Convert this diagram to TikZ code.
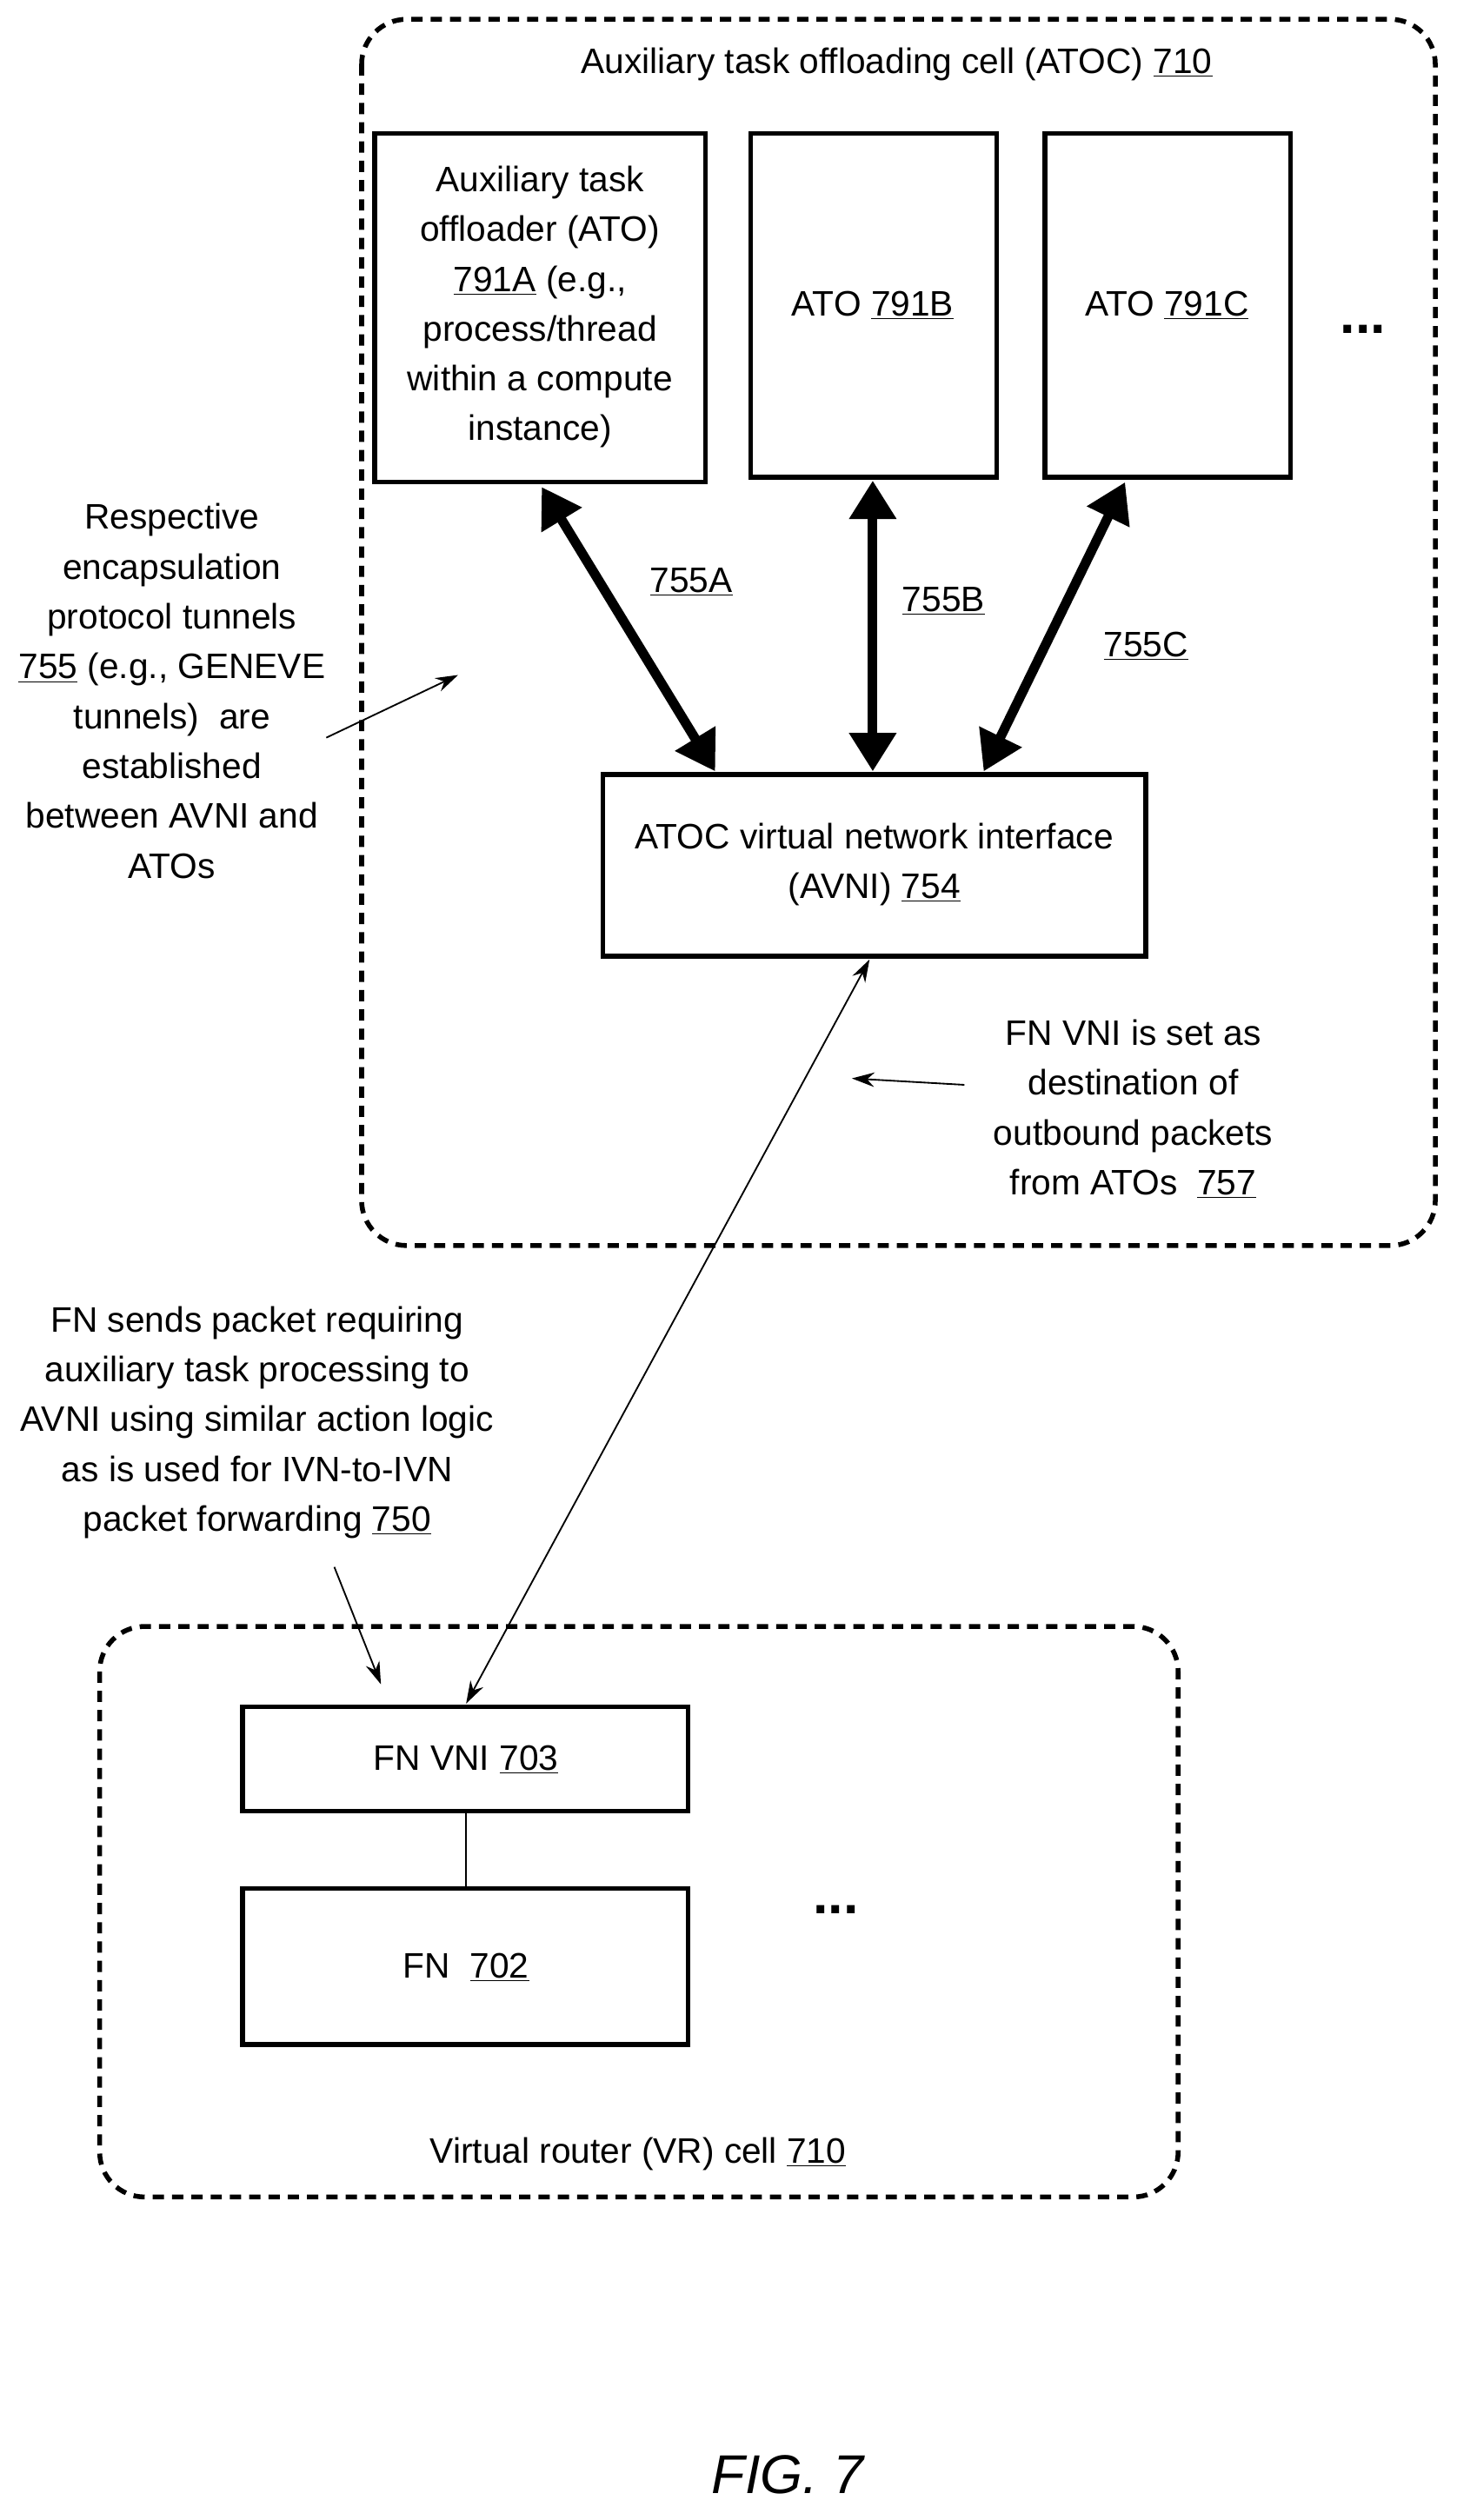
\documentclass[tikz,border=0pt]{standalone}
\usepackage{fontspec}
\setmainfont{Liberation Sans}
\usetikzlibrary{arrows.meta}
\begin{document}
\begin{tikzpicture}[x=1pt,y=-1pt,
  every node/.style={font=\fontsize{22}{31}\selectfont,align=center},
  cell/.style={draw,line width=3pt,dash pattern=on 7pt off 5pt,rounded corners=28pt},
  box/.style={draw,line width=3pt},
  fat/.style={line width=6pt,{Triangle[length=24pt,width=28pt]}-{Triangle[length=24pt,width=28pt]}},
  thin/.style={line width=1pt,{Stealth[length=14pt,width=9pt]}-{Stealth[length=14pt,width=9pt]}},
  pt/.style={line width=1pt,-{Stealth[length=14pt,width=9pt]}}]
\useasboundingbox (0,0) rectangle (906,1568);
\draw[cell] (225,12) rectangle (893,775);
\node (t1) at (558,40) {Auxiliary task offloading cell (ATOC) \underline{710}};
\draw[box] (233,83) rectangle (439,300);
\node (a) at (336,191) {Auxiliary task\\offloader (ATO)\\\underline{791A} (e.g.,\\process/thread\\within a compute\\instance)};
\coordinate (aS) at (337,303);
\draw[box] (467,83) rectangle (620,297);
\node (b) at (543,190) {ATO \underline{791B}};
\coordinate (bS) at (543,299);
\draw[box] (650,83) rectangle (803,297);
\node (c) at (726,190) {ATO \underline{791C}};
\coordinate (cS) at (700,300);
\node (d1) at (848,205) {\textbf{\fontsize{34}{34}\selectfont ...}};
\draw[box] (375,482) rectangle (713,595);
\node (v) at (544,538) {ATOC virtual network interface\\(AVNI) \underline{754}};
\coordinate (v1) at (445,480);
\coordinate (v2) at (543,480);
\coordinate (v3) at (612,480);
\coordinate (v4) at (541,597);
\draw[fat] (aS) -- (v1);
\draw[fat] (bS) -- (v2);
\draw[fat] (cS) -- (v3);
\node (l1) at (430,362) {\underline{755A}};
\node (l2) at (587,374) {\underline{755B}};
\node (l3) at (713,402) {\underline{755C}};
\node (lt) at (107,430) {Respective\\encapsulation\\protocol tunnels\\\underline{755} (e.g., GENEVE\\tunnels)\ \ are\\established\\between AVNI and\\ATOs};
\coordinate (ls) at (203,459); \coordinate (le) at (285,420);
\draw[pt] (ls) -- (le);
\node (rt) at (705,690) {FN VNI is set as\\destination of\\outbound packets\\from ATOs\ \ \underline{757}};
\coordinate (rs) at (600,675); \coordinate (re) at (530,671);
\draw[pt] (rs) -- (re);
\draw[cell] (62,1012) rectangle (733,1367);
\draw[box] (151,1062) rectangle (428,1127);
\node (fv) at (290,1095) {FN VNI \underline{703}};
\coordinate (fvT) at (290,1060);
\draw[box] (151,1175) rectangle (428,1272);
\node (fn) at (290,1224) {FN\ \ \underline{702}};
\draw[line width=1pt] (290,1128) -- (290,1174);
\draw[thin] (v4) -- (fvT);
\node (d2) at (520,1188) {\textbf{\fontsize{34}{34}\selectfont ...}};
\node (vr) at (397,1340) {Virtual router (VR) cell \underline{710}};
\node (ft) at (160,885) {FN sends packet requiring\\auxiliary task processing to\\AVNI using similar action logic\\as is used for IVN-to-IVN\\packet forwarding \underline{750}};
\coordinate (fs) at (208,975); \coordinate (fe) at (237,1048);
\draw[pt] (fs) -- (fe);
\node (fig) at (490,1540) {\fontsize{34}{40}\selectfont\itshape FIG. 7};
\end{tikzpicture}
\end{document}
